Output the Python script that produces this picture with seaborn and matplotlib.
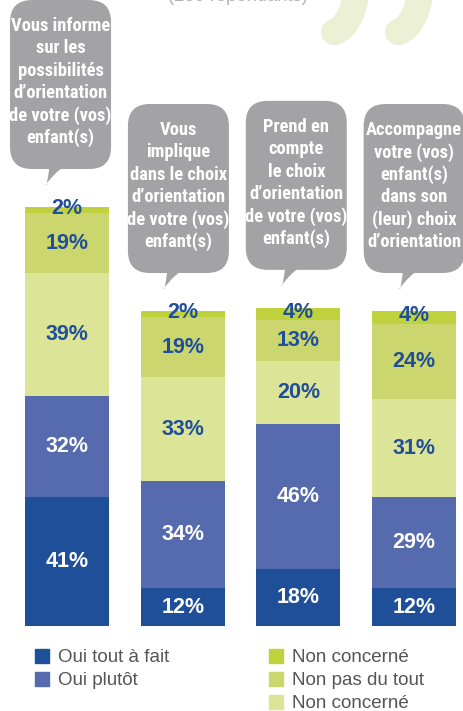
import matplotlib
matplotlib.use("Agg")
import matplotlib.pyplot as plt
import numpy as np
import seaborn as sns
from matplotlib import font_manager
from matplotlib.patches import FancyBboxPatch, Patch, Polygon

# data, bottom segment first
categories = ["Informe", "Implique", "Prend en compte", "Accompagne"]
oui_tout = [41, 12, 18, 12]
oui_plutot = [32, 34, 46, 29]
non_plutot = [39, 33, 20, 31]
non_pas = [19, 19, 13, 24]
non_concerne = [2, 2, 4, 4]

series = [oui_tout, oui_plutot, non_plutot, non_pas, non_concerne]
colors = ["#1f4f99", "#566bad", "#dce498", "#ccd66e", "#bfd13d"]
label_colors = ["white", "white", "#1f4f99", "#1f4f99", "#1f4f99"]

legend_left = ["Oui tout à fait", "Oui plutôt"]
legend_right = ["Non concerné", "Non pas du tout", "Non concerné"]

bubble_texts = [
    ["Vous informe", "sur les", "possibilités", "d’orientation", "de votre (vos)", "enfant(s)"],
    ["Vous", "implique", "dans le choix", "d’orientation", "de votre (vos)", "enfant(s)"],
    ["Prend en", "compte", "le choix", "d’orientation", "de votre (vos)", "enfant(s)"],
    ["Accompagne", "votre (vos)", "enfant(s)", "dans son", "(leur) choix", "d’orientation"],
]
subtitle = "(280 répondants)"

W, H = 464, 711
sns.set_theme(style="white")
plt.rcParams["font.family"] = ["Liberation Sans", "DejaVu Sans"]

fig = plt.figure(figsize=(W / 100, H / 100), dpi=100)
fig.patch.set_facecolor("white")
renderer = fig.canvas.get_renderer()

# pixels per percent ~3.15, baseline at y=626 px
ax = fig.add_axes([9.2 / W, (H - 626) / H, 462.7 / W, 626 / H])
stack = np.cumsum(np.array(series), axis=0)
for k in range(len(series) - 1, -1, -1):
    sns.barplot(x=categories, y=stack[k], color=colors[k], saturation=1,
                width=0.726, linewidth=0, ax=ax)
ax.set_xlim(-0.5, 3.5)
ax.set_ylim(0, 626 / 3.15)
ax.axis("off")

bottoms = np.vstack([np.zeros(len(categories)), stack[:-1]])
for k, vals in enumerate(series):
    for i, v in enumerate(vals):
        y = bottoms[k][i] + v / 2
        if k == len(series) - 1:
            y += 0.6
        ax.text(i, y, f"{v}%", ha="center", va="center", fontsize=15.5,
                fontweight="bold", color=label_colors[k])

# overlay in pixel coordinates for bubbles and decoration
ov = fig.add_axes([0, 0, 1, 1], zorder=-1)
ov.set_xlim(0, W)
ov.set_ylim(0, H)
ov.axis("off")

# pick the narrowest installed bold face, then size it so the widest line fits
installed = {f.name for f in font_manager.fontManager.ttflist}
candidates = [c for c in ["Roboto Condensed", "Liberation Sans Narrow", "Roboto",
                          "Lato", "Liberation Sans", "Inter"] if c in installed]
best = None
for fam in candidates:
    widest = 0
    for line in ["de votre (vos)", "d’orientation", "Accompagne"]:
        p = ov.text(0, 0, line, fontsize=13.3, fontweight="bold", family=fam)
        widest = max(widest, p.get_window_extent(renderer).width)
        p.remove()
    if best is None or widest < best[1]:
        best = (fam, widest)
bub_family = best[0]
bub_fs = min(13.3, 13.3 * 103 / best[1])

bub_w, bub_h = 101, 169
bub_grey = "#a3a3a5"
for i, lines in enumerate(bubble_texts):
    cx, top = ax.transData.transform((i, stack[-1][i]))
    cx += -6.5 + 2.2 * i
    b0 = top + 38
    ov.add_patch(FancyBboxPatch((cx - bub_w / 2, b0), bub_w, bub_h,
                                boxstyle="round,pad=0,rounding_size=22",
                                fc=bub_grey, ec="none"))
    # tail with slightly concave sides
    s = np.linspace(0, 1, 12)
    left = np.column_stack([cx - 11 - 3 * s, b0 + 4 - 20 * s ** 0.8])
    right = np.column_stack([cx + 9 - 24 * s, b0 + 4 - 20 * s ** 1.6])
    ov.add_patch(Polygon(np.vstack([left, right[::-1]]), closed=True,
                         fc=bub_grey, ec="none"))
    for j, line in enumerate(lines):
        ov.text(cx, b0 + bub_h - 26 - j * 22.4, line, ha="center", va="center",
                fontsize=bub_fs, fontweight="bold", color="white",
                family=bub_family)

# partial subtitle and quote marks at the top
ov.text(238, H - 1, subtitle, ha="center", va="baseline", fontsize=13.2,
        color="#b3b3b3")
t = np.linspace(0, 1, 40)
for dx in (0, 64):
    p0, p1, p2 = np.array([358, H + 20]), np.array([354, H - 25]), np.array([334, H - 32])
    pts = ((1 - t) ** 2)[:, None] * p0 + (2 * (1 - t) * t)[:, None] * p1 + (t ** 2)[:, None] * p2
    ov.plot(pts[:, 0] + dx, pts[:, 1], color="#ecf0d4", lw=19, solid_capstyle="round")

# legends
leg_kw = dict(frameon=False, fontsize=13.5, handlelength=0.75, handleheight=0.75,
              handletextpad=0.5, labelspacing=0.3, borderpad=0, borderaxespad=0,
              loc="upper left", labelcolor="#555555")
fig.legend(handles=[Patch(color=colors[0], label=legend_left[0]),
                    Patch(color=colors[1], label=legend_left[1])],
           bbox_to_anchor=(35 / W, (H - 649) / H), **leg_kw)
fig.legend(handles=[Patch(color=colors[4], label=legend_right[0]),
                    Patch(color=colors[3], label=legend_right[1]),
                    Patch(color=colors[2], label=legend_right[2])],
           bbox_to_anchor=(269 / W, (H - 649) / H), **leg_kw)

fig.savefig("out.png", dpi=100)
